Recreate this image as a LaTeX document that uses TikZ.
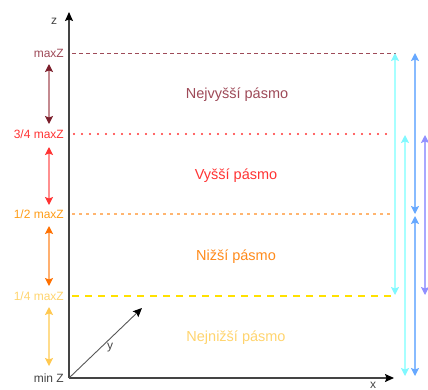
\documentclass[tikz,border=0pt]{standalone}
\usepackage{fontspec}
\setmainfont{Liberation Sans}
\usetikzlibrary{arrows.meta}
\definecolor{cDR}{HTML}{9E4A58}
\definecolor{cDRs}{HTML}{C48A90}
\definecolor{cDRh}{HTML}{7B1E2B}
\definecolor{cR}{HTML}{FF3333}
\definecolor{cRs}{HTML}{FF9090}
\definecolor{cO}{HTML}{FF8A1A}
\definecolor{cOl}{HTML}{FFB570}
\definecolor{cOs}{HTML}{FFB070}
\definecolor{cOh}{HTML}{FF7000}
\definecolor{cY}{HTML}{FFE100}
\definecolor{cYt}{HTML}{FFD46E}
\definecolor{cYs}{HTML}{FFDC8C}
\definecolor{cYh}{HTML}{FFC850}
\definecolor{cCs}{HTML}{A8FFFF}
\definecolor{cCh}{HTML}{80F8FF}
\definecolor{cBs}{HTML}{88BBFF}
\definecolor{cBh}{HTML}{66A8FF}
\definecolor{cPs}{HTML}{A8A8FF}
\definecolor{cPh}{HTML}{9090FF}
\definecolor{axis}{HTML}{444444}
\tikzset{
  dblarrow/.style 2 args={draw=#1, line width=1.2pt,
    arrows={Stealth[length=8pt,width=8pt,inset=1.5pt,color=#2]-Stealth[length=8pt,width=8pt,inset=1.5pt,color=#2]}},
  axisarrow/.style={draw=axis, line width=1.1pt, -{Stealth[length=9pt,width=8pt,inset=1.5pt,color=black]}},
  lbl/.style={font=\fontsize{12}{14}\selectfont, anchor=east, inner sep=0pt},
  band/.style={font=\fontsize{14.5}{17}\selectfont, inner sep=0pt},
}
\begin{document}
\begin{tikzpicture}[x=1pt,y=-1pt]
\useasboundingbox (0,0) rectangle (428,389);
% axes
\coordinate (O) at (69,378);
\coordinate (Ztop) at (69,12);
\coordinate (Xend) at (394,378);
\coordinate (Yend) at (142,308);
\draw[axisarrow] (O) -- (Ztop);
\draw[axisarrow] (O) -- (Xend);
\draw[axisarrow, draw=axis!90, line width=0.9pt] (O) -- (Yend);
\node[font=\fontsize{12}{14}\selectfont, text=axis] (zl) at (54,21) {z};
\node[font=\fontsize{12}{14}\selectfont, text=axis] (yl) at (110,348) {y};
\node[font=\fontsize{12}{14}\selectfont, text=axis, anchor=north, inner sep=0pt] (xl) at (373,382) {x};
% level lines
\coordinate (L1a) at (72,53);  \coordinate (L1b) at (396,53);
\coordinate (L2a) at (74,134); \coordinate (L2b) at (390,134);
\coordinate (L3a) at (72,214); \coordinate (L3b) at (394,214);
\coordinate (L4a) at (72,296); \coordinate (L4b) at (392,296);
\draw[cDR, line width=1pt, dash pattern=on 4pt off 3pt] (L1a) -- (L1b);
\draw[cR, line width=2.4pt, line cap=round, dash pattern=on 0pt off 8pt] (L2a) -- (L2b);
\draw[cOl, line width=1.5pt, dash pattern=on 3pt off 4pt] (L3a) -- (L3b);
\draw[cY, line width=1.8pt, dash pattern=on 7pt off 6pt] (L4a) -- (L4b);
% level labels
\node[lbl, text=cDR] (n1) at (64,53) {maxZ};
\node[lbl, text=cR] (n2) at (64,134) {3/4 maxZ};
\node[lbl, text=cO!85!yellow] (n3) at (64,214) {1/2 maxZ};
\node[lbl, text=cYt] (n4) at (64,296) {1/4 maxZ};
\node[lbl, text=axis] (n5) at (64,378) {min Z};
% band names
\node[band, text=cDR] (b1) at (237,95) {Nejvyšší pásmo};
\node[band, text=cR] (b2) at (236,176) {Vyšší pásmo};
\node[band, text=cO] (b3) at (236,257) {Nižší pásmo};
\node[band, text=cYt] (b4) at (236,338) {Nejnižší pásmo};
% left double arrows
\coordinate (a1t) at (49,64);  \coordinate (a1b) at (49,124);
\coordinate (a2t) at (49,147); \coordinate (a2b) at (49,205);
\coordinate (a3t) at (49,226); \coordinate (a3b) at (49,286);
\coordinate (a4t) at (49,307); \coordinate (a4b) at (49,366);
\draw[dblarrow={cDRs}{cDRh}] (a1t) -- (a1b);
\draw[dblarrow={cRs}{cR}] (a2t) -- (a2b);
\draw[dblarrow={cOs}{cOh}] (a3t) -- (a3b);
\draw[dblarrow={cYs}{cYh}] (a4t) -- (a4b);
% right double arrows
\coordinate (r1t) at (395,53);  \coordinate (r1b) at (395,295);
\coordinate (r2t) at (405,135); \coordinate (r2b) at (405,376);
\coordinate (r3t) at (415,53);  \coordinate (r3b) at (415,214);
\coordinate (r4t) at (415,216); \coordinate (r4b) at (415,376);
\coordinate (r5t) at (425,135); \coordinate (r5b) at (425,295);
\draw[dblarrow={cCs}{cCh}] (r1t) -- (r1b);
\draw[dblarrow={cCs}{cCh}] (r2t) -- (r2b);
\draw[dblarrow={cBs}{cBh}] (r3t) -- (r3b);
\draw[dblarrow={cBs}{cBh}] (r4t) -- (r4b);
\draw[dblarrow={cPs}{cPh}] (r5t) -- (r5b);
\end{tikzpicture}
\end{document}
